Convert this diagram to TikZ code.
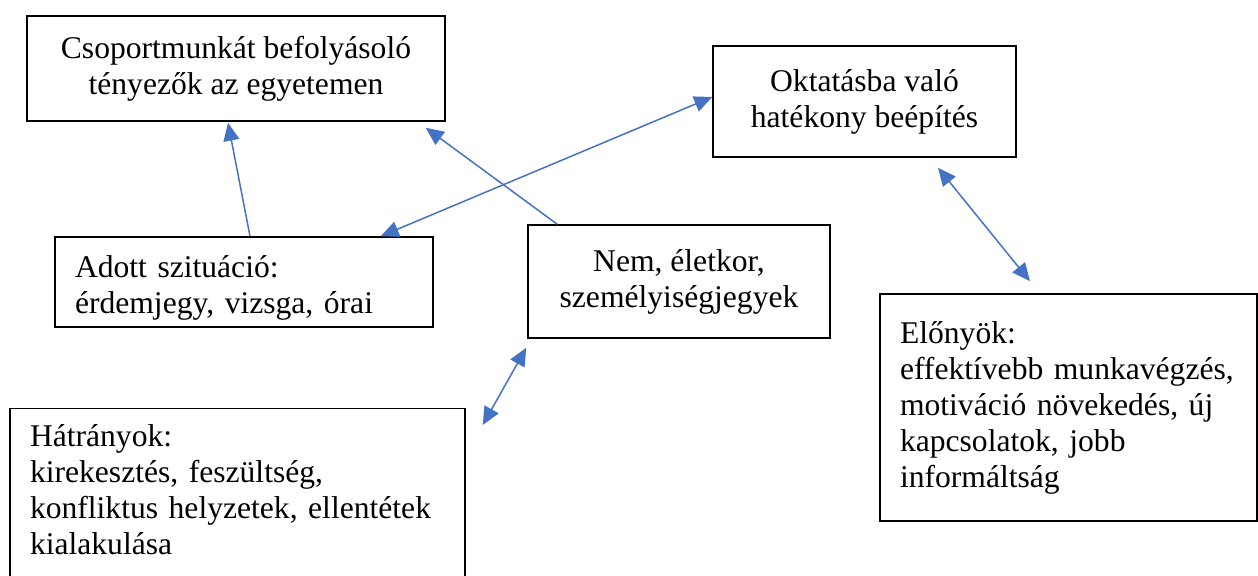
\documentclass[tikz,border=0pt]{standalone}
\usepackage{fontspec}
\setmainfont{Liberation Serif}
\usetikzlibrary{arrows.meta}

\definecolor{linkblue}{HTML}{4472C4}

\tikzset{
    box/.style={draw, line width=0.75pt, rectangle, inner sep=0pt,
        font=\fontsize{15.8pt}{18pt}\selectfont},
    leftbox/.style={box, align=left, inner xsep=10pt, inner ysep=8pt},
    link/.style={linkblue, line width=0.75pt,
        -{Triangle[length=9pt,width=8pt]}},
    twoway/.style={link, {Triangle[length=9pt,width=8pt]}-{Triangle[length=9pt,width=8pt]}}
}

\begin{document}
\begin{tikzpicture}[x=0.5pt, y=-0.5pt]

    % Fix the frame of the picture
    \useasboundingbox (0,0) rectangle (1258,576);

    % Top boxes
    \node[box, align=center, minimum width=209pt, minimum height=52.5pt] (csop) at (236,68.5)
        {Csoportmunkát befolyásoló\\tényezők az egyetemen};
    \node[box, align=center, minimum width=151.5pt, minimum height=55.5pt] (oktat) at (864.5,101.5)
        {Oktatásba való\\hatékony beépítés};

    % Middle boxes (text in the left one sits a little low)
    \node[leftbox, inner ysep=0pt, text width=169pt, minimum height=45pt] (adott) at (244,282)
        {\rule{0pt}{17pt}Adott szituáció:\\érdemjegy, vizsga, órai};
    \node[box, align=center, minimum width=151pt, minimum height=56.5pt] (nem) at (679,281.5)
        {Nem, életkor,\\személyiségjegyek};

    % Bottom boxes (the left one runs past the lower edge)
    \node[leftbox, text width=207.5pt, anchor=north] (hatr) at (237.5,408)
        {Hátrányok:\\kirekesztés, feszültség,\\konfliktus helyzetek, ellentétek\\kialakulása\\\mbox{}};
    \node[leftbox, text width=168.5pt, minimum height=113.5pt] (elon) at (1068.5,407.5)
        {Előnyök:\\effektívebb munkavégzés,\\motiváció növekedés, új\\kapcsolatok, jobb\\informáltság};

    % One-way arrows into the top left box
    \draw[link] ([xshift=3pt]adott.north) -- ([xshift=-4pt,yshift=-0.5pt]csop.south);
    \draw[link] ([xshift=15pt]nem.north west) -- ([xshift=-10pt,yshift=-3pt]csop.south east);

    % Two-way arrows
    \draw[twoway] ([xshift=-26.5pt]adott.north east) -- ([yshift=2.25pt]oktat.west);
    \draw[twoway] ([xshift=36.75pt,yshift=-5pt]oktat.south) -- ([xshift=-19.25pt,yshift=6pt]elon.north);
    \draw[twoway] ([xshift=-0.5pt,yshift=-4.5pt]nem.south west) -- ([xshift=8.5pt,yshift=-8.5pt]hatr.north east);

\end{tikzpicture}
\end{document}
